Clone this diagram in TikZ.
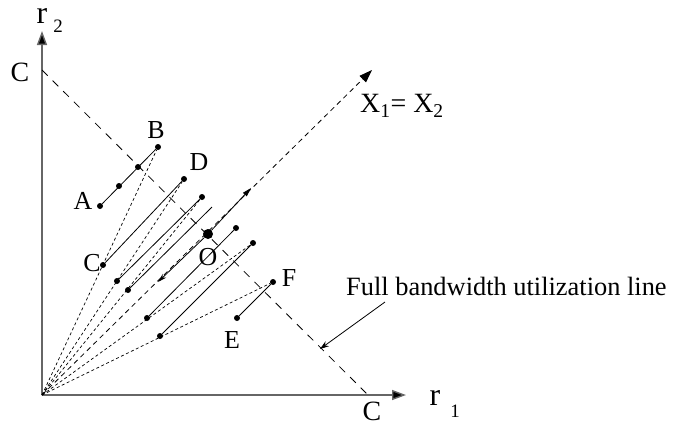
\documentclass[tikz,border=0pt]{standalone}
\usepackage{fontspec}
\setmainfont{Liberation Serif}
\usetikzlibrary{arrows.meta}
\begin{document}
\begin{tikzpicture}[x=1bp,y=-1bp,
  dot/.style={circle,fill=black,inner sep=0pt,minimum size=6bp},
  bigdot/.style={circle,fill=black,inner sep=0pt,minimum size=10bp},
  lbl/.style={inner sep=0pt,font=\fontsize{26}{26}\selectfont},
  seg/.style={line width=0.8bp},
  axis/.style={line width=1.4bp,draw=black!60,-{Triangle[length=14bp,width=10bp,fill=black]}},
  rayline/.style={line width=0.7bp,dash pattern=on 3bp off 2.5bp},
  fullline/.style={line width=0.8bp,dash pattern=on 8bp off 7bp},
  diagline/.style={line width=0.8bp,dash pattern=on 5bp off 4bp,-{Triangle[length=13bp,width=9bp]}},
]
\useasboundingbox (0,0) rectangle (674,425);
% axes
\coordinate (o) at (42,395);
\coordinate (ytip) at (42,31);
\coordinate (xtip) at (406,395);
\draw[axis] (o) -- (ytip);
\draw[axis] (o) -- (xtip);
\node[lbl,font=\fontsize{32}{32}\selectfont] (r2) at (42,16) {r};
\node[lbl,font=\fontsize{19}{19}\selectfont] (r2s) at (58,26) {2};
\node[lbl,font=\fontsize{32}{32}\selectfont] (r1) at (435,398) {r};
\node[lbl,font=\fontsize{19}{19}\selectfont] (r1s) at (455,411) {1};
% capacity line
\coordinate (cy) at (42,70);
\coordinate (cx) at (368,395);
\node[lbl,font=\fontsize{28}{28}\selectfont] (Cy) at (20,72) {C};
\node[lbl,font=\fontsize{28}{28}\selectfont] (Cx) at (372,411) {C};
\draw[fullline] (cy) -- (cx);
% fairness line
\coordinate (dtip) at (372,70);
\draw[diagline] (o) -- (dtip);
\node[lbl,anchor=west,font=\fontsize{28}{28}\selectfont] (X) at (360,106) {X\textsubscript{1}= X\textsubscript{2}};
% dots
\node[dot] (A) at (100,206) {};
\node[dot] (A1) at (119,186) {};
\node[dot] (A2) at (138,167) {};
\node[dot] (B) at (158,147) {};
\node[dot] (C) at (103,265) {};
\node[dot] (D) at (184,179) {};
\node[dot] (G) at (117,281) {};
\node[dot] (H) at (202,197) {};
\node[dot] (I) at (128,290) {};
\coordinate (Iend) at (212,207);
\node[bigdot] (O) at (208,234) {};
\node[dot] (J) at (236,228) {};
\node[dot] (K) at (147,318) {};
\node[dot] (L) at (253,243) {};
\node[dot] (M) at (160,336) {};
\node[dot] (F) at (273,282) {};
\node[dot] (E) at (237,318) {};
% labels
\node[lbl] (Al) at (83,201) {A};
\node[lbl] (Bl) at (156,130) {B};
\node[lbl] (Cl) at (92,263) {C};
\node[lbl] (Dl) at (199,162) {D};
\node[lbl] (Ol) at (208,257) {O};
\node[lbl] (El) at (232,340) {E};
\node[lbl] (Fl) at (289,278) {F};
% rays from origin
\draw[rayline] (o) -- (B);
\draw[rayline] (o) -- (D);
\draw[rayline] (o) -- (H);
\draw[rayline] (o) -- (L);
\draw[rayline] (o) -- (F);
% increase segments
\draw[seg] (A) -- (B);
\draw[seg] (C) -- (D);
\draw[seg] (G) -- (H);
\draw[seg] (I) -- (Iend);
\draw[seg] (K) -- (J);
\draw[seg] (M) -- (L);
\draw[seg] (E) -- (F);
% arrows at O
\coordinate (odn) at (158,282);
\coordinate (oup) at (251,188);
\draw[seg,-{Stealth[length=9bp,width=5bp]}] (O) -- (odn);
\draw[seg,-{Triangle[length=9bp,width=5bp]}] (O) -- (oup);
% annotation
\node[lbl,anchor=west,font=\fontsize{26.5}{26.5}\selectfont] (full) at (346,286) {Full bandwidth utilization line};
\coordinate (fs) at (385,302);
\coordinate (fe) at (320,349);
\draw[seg,-{Stealth[length=9bp,width=6bp]}] (fs) -- (fe);
\end{tikzpicture}
\end{document}
